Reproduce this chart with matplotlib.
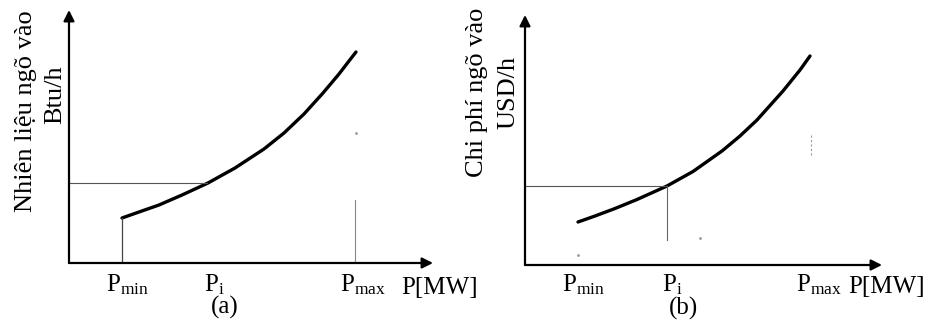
import matplotlib
matplotlib.use('Agg')
import matplotlib.pyplot as plt

# values (x = power, y = input fuel / cost, arbitrary units)
p_a = [53, 70, 90, 113, 139, 166, 195, 215, 235, 254, 270, 280, 287]
fuel_a = [45, 51, 58, 68, 80, 95, 114, 130, 149, 170, 189, 202, 211]
p_b = [53, 70, 90, 112, 142, 168, 197, 215, 232, 258, 275, 285]
cost_b = [43, 49, 56.5, 65.5, 79, 93.5, 114, 129, 145, 174, 195, 209]

pmin_a, pi_a, pmax_a = 53, 138, 286
fuel_pi_a = 80
pmin_b, pi_b, pmax_b = 53, 142, 286
cost_pi_b = 79

tick_names = [r'$\mathrm{P_{min}}$', r'$\mathrm{P_{i}}$', r'$\mathrm{P_{max}}$']

plt.rcParams['font.family'] = ['Liberation Serif', 'DejaVu Serif']
plt.rcParams['mathtext.fontset'] = 'custom'
plt.rcParams['mathtext.rm'] = 'Liberation Serif'

W, H = 930, 322
fig = plt.figure(figsize=(W / 100, H / 100), dpi=100)


def make_axes(x0, y0, width, height):
    # x0, y0 = origin in picture pixels (y from top)
    ax = fig.add_axes([x0 / W, (H - y0) / H, width / W, height / H])
    ax.set_xlim(0, width)
    ax.set_ylim(0, height)
    ax.axis('off')
    return ax


def draw_frame(ax, xtip, ytip):
    arrow = dict(arrowstyle='-|>', lw=1.6, color='k', mutation_scale=16,
                 shrinkA=0, shrinkB=0)
    ax.annotate('', xy=(xtip, 0), xytext=(0, 0), arrowprops=arrow,
                annotation_clip=False)
    ax.annotate('', xy=(0, ytip), xytext=(0, 0), arrowprops=arrow,
                annotation_clip=False)


fs = 18
fs_y = 19

# ---- (a) fuel input curve
ax_a = make_axes(69, 263, 371, 258)
draw_frame(ax_a, 364, 253)
ax_a.plot(p_a, fuel_a, color='k', lw=2.4, solid_capstyle='round',
          solid_joinstyle='round')
ax_a.plot([0, pi_a], [fuel_pi_a, fuel_pi_a], color='#555555', lw=0.8)
ax_a.plot([pmin_a, pmin_a], [0, fuel_a[0]], color='#444444', lw=0.9)
ax_a.plot([pmax_a, pmax_a], [0, 63], color='#888888', lw=0.8)
ax_a.plot([pmax_a + 1], [130], marker='.', ms=2, color='#999999')
for xv, name in zip([pmin_a + 6, pi_a + 7, pmax_a + 8], tick_names):
    ax_a.text(xv, -22, name, ha='center', va='center', fontsize=fs, clip_on=False)
ax_a.text(332, -25, 'P[MW]', ha='left', va='center', fontsize=fs, clip_on=False)
ax_a.text(156, -44, '(a)', ha='center', va='center', fontsize=fs, clip_on=False)

fig.text(26 / W, 1 - 111 / H, 'Nhiên liệu ngõ vào', rotation=90,
         ha='center', va='center', fontsize=fs_y)
fig.text(55 / W, 1 - 95 / H, 'Btu/h', rotation=90,
         ha='center', va='center', fontsize=fs_y)

# ---- (b) cost curve
ax_b = make_axes(525, 265, 365, 255)
draw_frame(ax_b, 357, 250)
ax_b.plot(p_b, cost_b, color='k', lw=2.4, solid_capstyle='round',
          solid_joinstyle='round')
ax_b.plot([0, pi_b], [cost_pi_b, cost_pi_b], color='#555555', lw=0.8)
ax_b.plot([pi_b, pi_b], [25, cost_pi_b], color='#666666', lw=0.8)
ax_b.plot([pmax_b, pmax_b], [110, 130], color='#999999', lw=0.8, ls=(0, (2, 2)))
ax_b.plot([175, 53], [27, 10], ls='none', marker='.', ms=2, color='#999999')
for xv, name in zip([pmin_b + 6, pi_b + 5, pmax_b + 8], tick_names):
    ax_b.text(xv, -20, name, ha='center', va='center', fontsize=fs, clip_on=False)
ax_b.text(323, -22, 'P[MW]', ha='left', va='center', fontsize=fs, clip_on=False)
ax_b.text(158, -43, '(b)', ha='center', va='center', fontsize=fs, clip_on=False)

fig.text(477 / W, 1 - 92 / H, 'Chi phí ngõ vào', rotation=90,
         ha='center', va='center', fontsize=fs_y)
fig.text(508 / W, 1 - 92 / H, 'USD/h', rotation=90,
         ha='center', va='center', fontsize=fs_y)

fig.savefig('out.png', dpi=100, facecolor='white')
